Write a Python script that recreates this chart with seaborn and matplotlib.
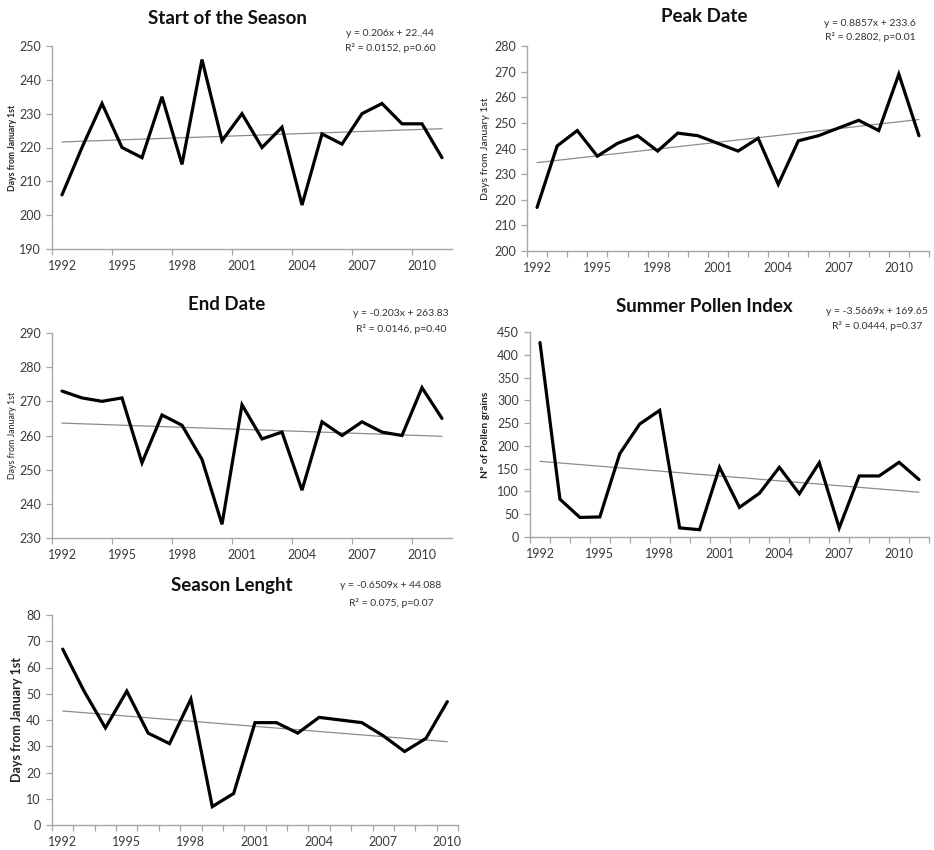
import matplotlib
matplotlib.use("Agg")
import matplotlib.pyplot as plt
import numpy as np
import pandas as pd
import seaborn as sns

# ---- data ---------------------------------------------------------------
years_20 = list(range(1992, 2012))
years_19 = list(range(1992, 2011))

start_season = [206, 220, 233, 220, 217, 235, 215, 246, 222, 230,
                220, 226, 203, 224, 221, 230, 233, 227, 227, 217]
peak_date = [217, 241, 247, 237, 242, 245, 239, 246, 245, 242,
             239, 244, 226, 243, 245, 248, 251, 247, 269, 245]
end_date = [273, 271, 270, 271, 252, 266, 263, 253, 234, 269,
            259, 261, 244, 264, 260, 264, 261, 260, 274, 265]
pollen_index = [427, 83, 43, 44, 183, 248, 278, 20, 16, 153,
                65, 96, 153, 95, 163, 20, 134, 134, 164, 126]
season_length = [67, 51, 37, 51, 35, 31, 48, 7, 12, 39,
                 39, 35, 41, 40, 39, 34, 28, 33, 47]

# linear trend coefficients (x = 1..n), as reported
trend_slopes = [0.206, 0.8857, -0.203, -3.5669, -0.6509]
trend_intercepts = [221.44, 233.6, 263.83, 169.65, 44.088]

titles = ["Start of the Season", "Peak Date", "End Date",
          "Summer Pollen Index", "Season Lenght"]
equations = ["y = 0.206x + 22.,44", "y = 0.8857x + 233.6",
             "y = -0.203x + 263.83", "y = -3.5669x + 169.65",
             "y = -0.6509x + 44.088"]
stats_text = ["R\u00b2 = 0.0152, p=0.60", "R\u00b2 = 0.2802, p=0.01",
              "R\u00b2 = 0.0146, p=0.40", "R\u00b2 = 0.0444, p=0.37",
              "R\u00b2 = 0.075, p=0.07"]
ylabels = ["Days from January 1st", "Days from January 1st",
           "Days from January 1st", "N\u00ba of Pollen grains",
           "Days from January 1st"]
y_ranges = [(190, 250, 10), (200, 280, 10), (230, 290, 10),
            (0, 450, 50), (0, 80, 10)]
year_labels = [1992, 1995, 1998, 2001, 2004, 2007, 2010]

# ---- style --------------------------------------------------------------
sns.set_theme(style="white")
plt.rcParams["font.family"] = ["Lato", "DejaVu Sans"]

W, H = 934, 850
fig = plt.figure(figsize=(W / 100, H / 100), dpi=100)
fig.patch.set_facecolor("white")


def px_axes(left, top, right, bottom):
    return fig.add_axes([left / W, 1 - bottom / H,
                         (right - left) / W, (bottom - top) / H])


# pixel layout: (left, top, right, bottom)
boxes = [(52, 46, 452, 249), (527, 46, 929, 251), (52, 333, 452, 538),
         (530, 332, 929, 537), (52, 615, 458, 825)]
title_pos = [(227, 18), (704, 17), (227, 305), (704, 306), (232, 586)]
eq_pos = [(390, 33, 48), (870, 23, 37), (401, 314, 329),
          (877, 312, 326), (391, 586, 603)]
ylabel_x = [13, 485, 13, 485, 17]
ylabel_bold = [True, False, False, True, True]
ylabel_size = [6.2, 7.5, 6.4, 7.5, 9.0]
yearly_ticks = [False, True, False, True, True]

series = [(years_20, start_season), (years_20, peak_date),
          (years_20, end_date), (years_20, pollen_index),
          (years_19, season_length)]

grey = "#a6a6a6"
for i, (yrs, vals) in enumerate(series):
    ax = px_axes(*boxes[i])
    df = pd.DataFrame({"year": yrs, "value": vals})
    sns.lineplot(data=df, x="year", y="value", ax=ax, color="black",
                 linewidth=2.3, solid_joinstyle="miter")

    n = len(yrs)
    xi = np.arange(1, n + 1)
    trend = pd.DataFrame({
        "year": yrs,
        "fit": trend_intercepts[i] + trend_slopes[i] * xi,
    })
    sns.lineplot(data=trend, x="year", y="fit", ax=ax, color="#8c8c8c",
                 linewidth=0.9, zorder=1)

    lo, hi, step = y_ranges[i]
    ax.set_ylim(lo, hi)
    ax.set_yticks(np.arange(lo, hi + step / 2, step))
    ax.set_xlim(yrs[0] - 0.5, yrs[-1] + 0.5)
    ax.set_xticks(year_labels)
    ax.set_xticklabels([str(y) for y in year_labels])
    if yearly_ticks[i]:
        ax.set_xticks(np.arange(yrs[0] - 0.5, yrs[-1] + 1), minor=True)
    else:
        ax.set_xticks(np.arange(yrs[0] - 0.5, yrs[-1] + 1, 3), minor=True)

    ax.tick_params(axis="x", which="major", length=0, pad=8,
                   labelsize=9, labelcolor="#3a3a3a")
    ax.tick_params(axis="x", which="minor", length=4, width=0.9,
                   color=grey, direction="out", bottom=True)
    ax.tick_params(axis="y", which="major", length=4, width=0.9,
                   color=grey, direction="out", left=True, pad=4,
                   labelsize=9, labelcolor="#3a3a3a")
    for side in ("top", "right"):
        ax.spines[side].set_visible(False)
    for side in ("left", "bottom"):
        ax.spines[side].set_color(grey)
        ax.spines[side].set_linewidth(1.0)
    ax.set_xlabel("")
    ax.set_ylabel("")
    ax.grid(False)
    ax.set_facecolor("white")

    # titles, y-axis captions and trend statistics in figure pixels
    tx, ty = title_pos[i]
    fig.text(tx / W, 1 - ty / H, titles[i], ha="center", va="center",
             fontsize=13.5, fontweight="bold", color="#111111")
    ex, ey1, ey2 = eq_pos[i]
    fig.text(ex / W, 1 - ey1 / H, equations[i], ha="center", va="center",
             fontsize=7.5, color="#333333")
    fig.text(ex / W, 1 - ey2 / H, stats_text[i], ha="center", va="center",
             fontsize=7.5, color="#333333")
    b = boxes[i]
    fig.text(ylabel_x[i] / W, 1 - ((b[1] + b[3]) / 2) / H, ylabels[i],
             rotation=90, ha="center", va="center", fontsize=ylabel_size[i],
             fontweight="bold" if ylabel_bold[i] else "normal",
             color="#222222")

fig.savefig("out.png", dpi=100, facecolor="white")
